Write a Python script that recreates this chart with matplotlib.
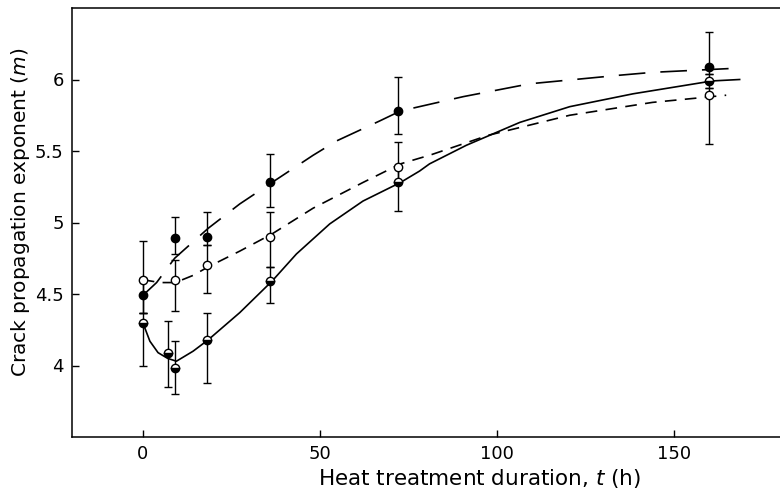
#!/usr/bin/python

from matplotlib import pyplot as plt

# measured points (heat treatment duration in h, exponent m)
t_solid = [0, 7, 9, 18, 36, 72, 160]
m_solid = [4.30, 4.09, 3.98, 4.18, 4.59, 5.28, 5.99]
lo_solid = [0.30, 0.24, 0.18, 0.30, 0.15, 0.20, 0.05]
hi_solid = [0.07, 0.22, 0.19, 0.19, 0.10, 0.11, 0.05]

t_open = [0, 9, 18, 36, 72, 160]
m_open = [4.60, 4.60, 4.70, 4.90, 5.39, 5.89]
lo_open = [0.23, 0.22, 0.19, 0.21, 0.11, 0.34]
hi_open = [0.27, 0.14, 0.14, 0.17, 0.17, 0.05]

t_full = [0, 9, 18, 36, 72, 160]
m_full = [4.49, 4.89, 4.90, 5.28, 5.78, 6.09]
lo_full = [0.12, 0.11, 0.06, 0.17, 0.16, 0.05]
hi_full = [0.12, 0.15, 0.17, 0.20, 0.24, 0.24]

# fitted curves
curve_solid_t = [0, 2, 4.3, 7, 9.5, 14.2, 18.5, 27.4, 36.5, 43.4, 52.8, 62.2,
                 72.8, 78.2, 81, 91.4, 106.5, 120.6, 138.5, 160.9, 168.6]
curve_solid_m = [4.30, 4.17, 4.09, 4.05, 4.03, 4.10, 4.18, 4.37, 4.59, 4.78,
                 4.99, 5.15, 5.28, 5.36, 5.41, 5.54, 5.70, 5.81, 5.90, 5.99,
                 6.00]

curve_long_t = [0, 3.9, 9, 18.5, 27.4, 36.5, 48.1, 54.7, 66.9, 72.8, 90.5,
                109.3, 134.7, 144, 168.6]
curve_long_m = [4.49, 4.58, 4.75, 4.96, 5.13, 5.28, 5.47, 5.57, 5.71, 5.78,
                5.88, 5.97, 6.03, 6.05, 6.08]

curve_short_t = [0, 4.8, 9.2, 14.2, 18.5, 27.4, 36.5, 48.1, 62.2, 72.8, 78.2,
                 81, 97.6, 120.6, 144, 164.8]
curve_short_m = [4.60, 4.58, 4.58, 4.63, 4.69, 4.80, 4.92, 5.10, 5.28, 5.41,
                 5.45, 5.47, 5.61, 5.75, 5.84, 5.89]

y_ticks = [4, 4.5, 5, 5.5, 6]
y_labels = ['4', '4.5', '5', '5.5', '6']
x_ticks = [0, 50, 100, 150]


def main():
  plt.rcParams['font.family'] = ['DejaVu Sans']
  fig = plt.figure(figsize=(7.8, 5), dpi=100)
  ax = fig.add_axes([72 / 780, 63 / 500, 708 / 780, 429 / 500])

  plot_curves(ax)
  plot_points(ax)

  ax.set_xlim(-20, 180)
  ax.set_ylim(3.5, 6.5)
  ax.set_xticks(x_ticks)
  ax.set_yticks(y_ticks)
  ax.set_yticklabels(y_labels)
  ax.tick_params(direction='in', length=5, width=1, labelsize=13, pad=6)
  ax.spines['right'].set_visible(False)
  for s in ['left', 'bottom', 'top']:
    ax.spines[s].set_linewidth(1.1)

  # the original figure was cropped on the right, so the label sits off-centre
  ax.set_xlabel(r'Heat treatment duration, $\it{t}$ (h)', fontsize=15.5,
                labelpad=3, x=0.575)
  ax.set_ylabel(r'Crack propagation exponent ($\it{m}$)', fontsize=14.5,
                labelpad=2, y=0.524)

  fig.savefig('out.png', dpi=100)


def plot_curves(ax):
  ax.plot(curve_solid_t, curve_solid_m, '-', color='black', lw=1.2)
  ax.plot(curve_long_t, curve_long_m, color='black', lw=1.2,
          dashes=(16, 9))
  ax.plot(curve_short_t, curve_short_m, color='black', lw=1.2,
          dashes=(7, 5))


def plot_points(ax):
  style = dict(fmt='o', color='black', ecolor='black', elinewidth=1,
               capsize=3, capthick=1, markersize=6, mew=1, zorder=3)
  ax.errorbar(t_full, m_full, yerr=[lo_full, hi_full], mfc='black', **style)
  ax.errorbar(t_open, m_open, yerr=[lo_open, hi_open], mfc='white', **style)
  ax.errorbar(t_solid, m_solid, yerr=[lo_solid, hi_solid],
              fillstyle='bottom', mfc='black', mfcalt='white', **style)


if __name__ == '__main__':
  main()
